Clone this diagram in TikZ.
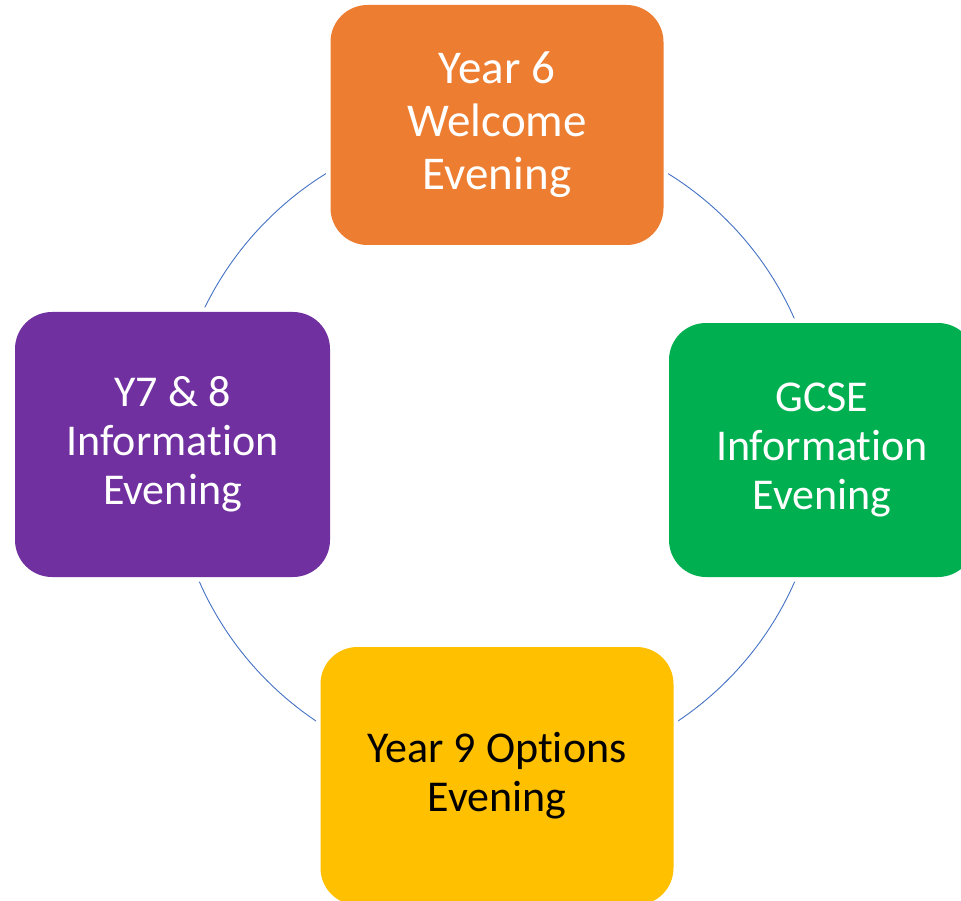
\documentclass[tikz,border=0pt]{standalone}
\usepackage{fontspec}
\setmainfont{Carlito}[RawFeature={-liga;-clig;-calt;-dlig}]
\usepackage{tikz}
\usetikzlibrary{backgrounds,positioning}
\definecolor{evorange}{HTML}{ED7D31}
\definecolor{evgreen}{HTML}{00B050}
\definecolor{evpurple}{HTML}{7030A0}
\definecolor{evyellow}{HTML}{FFC000}
\definecolor{ringblue}{HTML}{4472C4}

\begin{document}
\begin{tikzpicture}[x=1pt, y=1pt,
    evbox/.style={rectangle, rounded corners=37pt, inner sep=0pt, align=center,
      text=white, font={\fontsize{44}{49}\selectfont},
      preaction={draw=white, line width=9pt}},
    ring/.style={draw=ringblue, line width=0.9pt}]
  \useasboundingbox (0,0) rectangle (961,-901);
  \clip (0,0) rectangle (961,-901);

  % Evening boxes
  \node[evbox, fill=evorange, minimum width=333, minimum height=240,
    font={\fontsize{47}{53}\selectfont}] (year6) at (497,-125) {Year 6\\Welcome\\Evening};
  \node[evbox, fill=evgreen, minimum width=306, minimum height=254] (gcse) at (822,-450) {GCSE\\Information\\Evening};
  \node[evbox, fill=evyellow, minimum width=353, minimum height=258, text=black] (options) at (497,-776) {Year 9 Options\\Evening};
  \node[evbox, fill=evpurple, minimum width=315, minimum height=265] (y78) at (172.5,-444.5) {Y7 \& 8\\Information\\Evening};

  % Cycle ring
  \begin{scope}[on background layer]
    \draw[ring] (year6.center) arc[start angle=90, end angle=180, radius=325];
    \draw[ring] (options.center) arc[start angle=270, end angle=180, radius=325];
    \draw[ring] (options.center) arc[start angle=270, end angle=360, radius=325];
    \draw[ring] (gcse.center) arc[start angle=0, end angle=90, radius=325];
  \end{scope}
\end{tikzpicture}
\end{document}
